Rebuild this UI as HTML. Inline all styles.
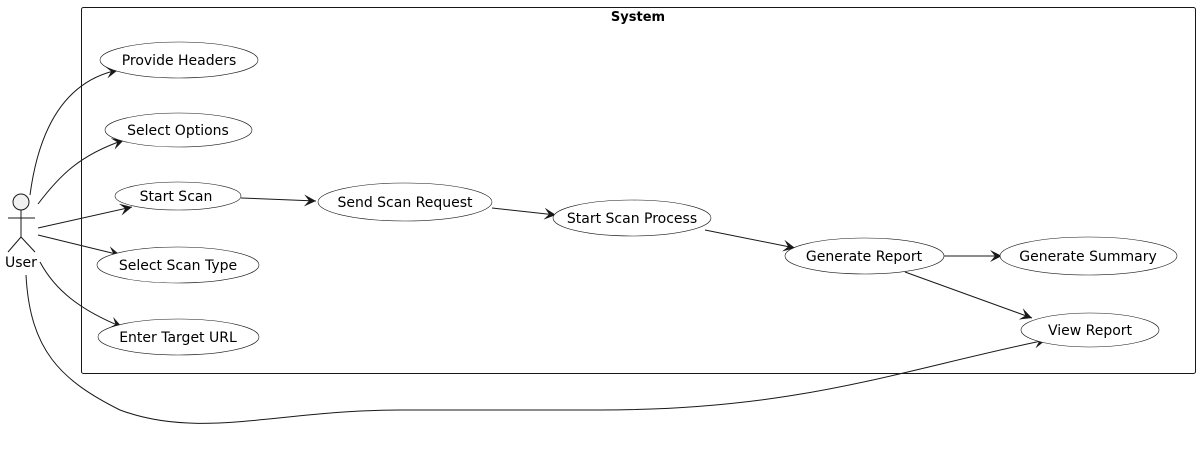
<!DOCTYPE html>
<html><head><style>body{margin:0;background:#fff}svg{display:block}</style></head><body>
<svg width="1200" height="471" viewBox="0 0 1200 471" xmlns="http://www.w3.org/2000/svg" font-family="DejaVu Sans, Liberation Sans, sans-serif" font-size="14">
<defs><marker id="a" markerWidth="14" markerHeight="12" refX="12" refY="6" orient="auto" markerUnits="userSpaceOnUse"><path d="M0,0 L12,6 L0,12 L5,6 Z" fill="#181818"/></marker></defs>
<rect x="81.5" y="7.5" width="1114" height="366" rx="2" fill="none" stroke="#181818"/>
<text x="638" y="21" text-anchor="middle" font-weight="bold" font-size="13">System</text>
<g fill="none" stroke="#181818" stroke-width="1">
<circle cx="21" cy="202" r="8" fill="#f1f1f1"/>
<line x1="21" y1="210" x2="21" y2="237"/><line x1="8" y1="218" x2="35" y2="218"/>
<line x1="21" y1="237" x2="8" y2="252"/><line x1="21" y1="237" x2="35" y2="252"/>
</g>
<text x="5" y="267">User</text>
<g fill="none" stroke="#181818" stroke-width="1" marker-end="url(#a)">
<path d="M30,195 C40,120 70,80 118,70"/>
<path d="M38,204 C60,175 80,155 124,140"/>
<path d="M38,228 L132,207"/>
<path d="M38,235 L120,255"/>
<path d="M40,262 C55,290 80,310 122,327"/>
<path d="M26,275 C30,350 60,380 120,410 C200,440 280,410 400,410 L600,410 C800,410 900,370 1046,340"/>
<path d="M241,198 L316,201"/>
<path d="M492,208 L556,215"/>
<path d="M705,230 L795,248"/>
<path d="M944,256 L1002,256"/>
<path d="M905,272 L1032,318"/>
</g>
<g fill="#fff" stroke="#181818" stroke-width="0.6">
<ellipse cx="179" cy="60" rx="79" ry="18"/>
<ellipse cx="178.5" cy="130" rx="73.5" ry="17"/>
<ellipse cx="178" cy="196" rx="63" ry="14"/>
<ellipse cx="178" cy="265" rx="81" ry="18"/>
<ellipse cx="178.5" cy="337" rx="80.5" ry="18"/>
<ellipse cx="405" cy="202" rx="87" ry="19"/>
<ellipse cx="632" cy="218" rx="79" ry="18"/>
<ellipse cx="864.5" cy="256" rx="79.5" ry="18"/>
<ellipse cx="1088.5" cy="256" rx="88.5" ry="19"/>
<ellipse cx="1090" cy="330" rx="69" ry="17"/>
</g>
<g text-anchor="middle">
<text x="179" y="65">Provide Headers</text>
<text x="178" y="135">Select Options</text>
<text x="176" y="201">Start Scan</text>
<text x="178" y="270">Select Scan Type</text>
<text x="178" y="342">Enter Target URL</text>
<text x="405" y="207">Send Scan Request</text>
<text x="632" y="223">Start Scan Process</text>
<text x="864" y="261">Generate Report</text>
<text x="1088" y="261">Generate Summary</text>
<text x="1090" y="335">View Report</text>
</g>
</svg>
</body></html>
